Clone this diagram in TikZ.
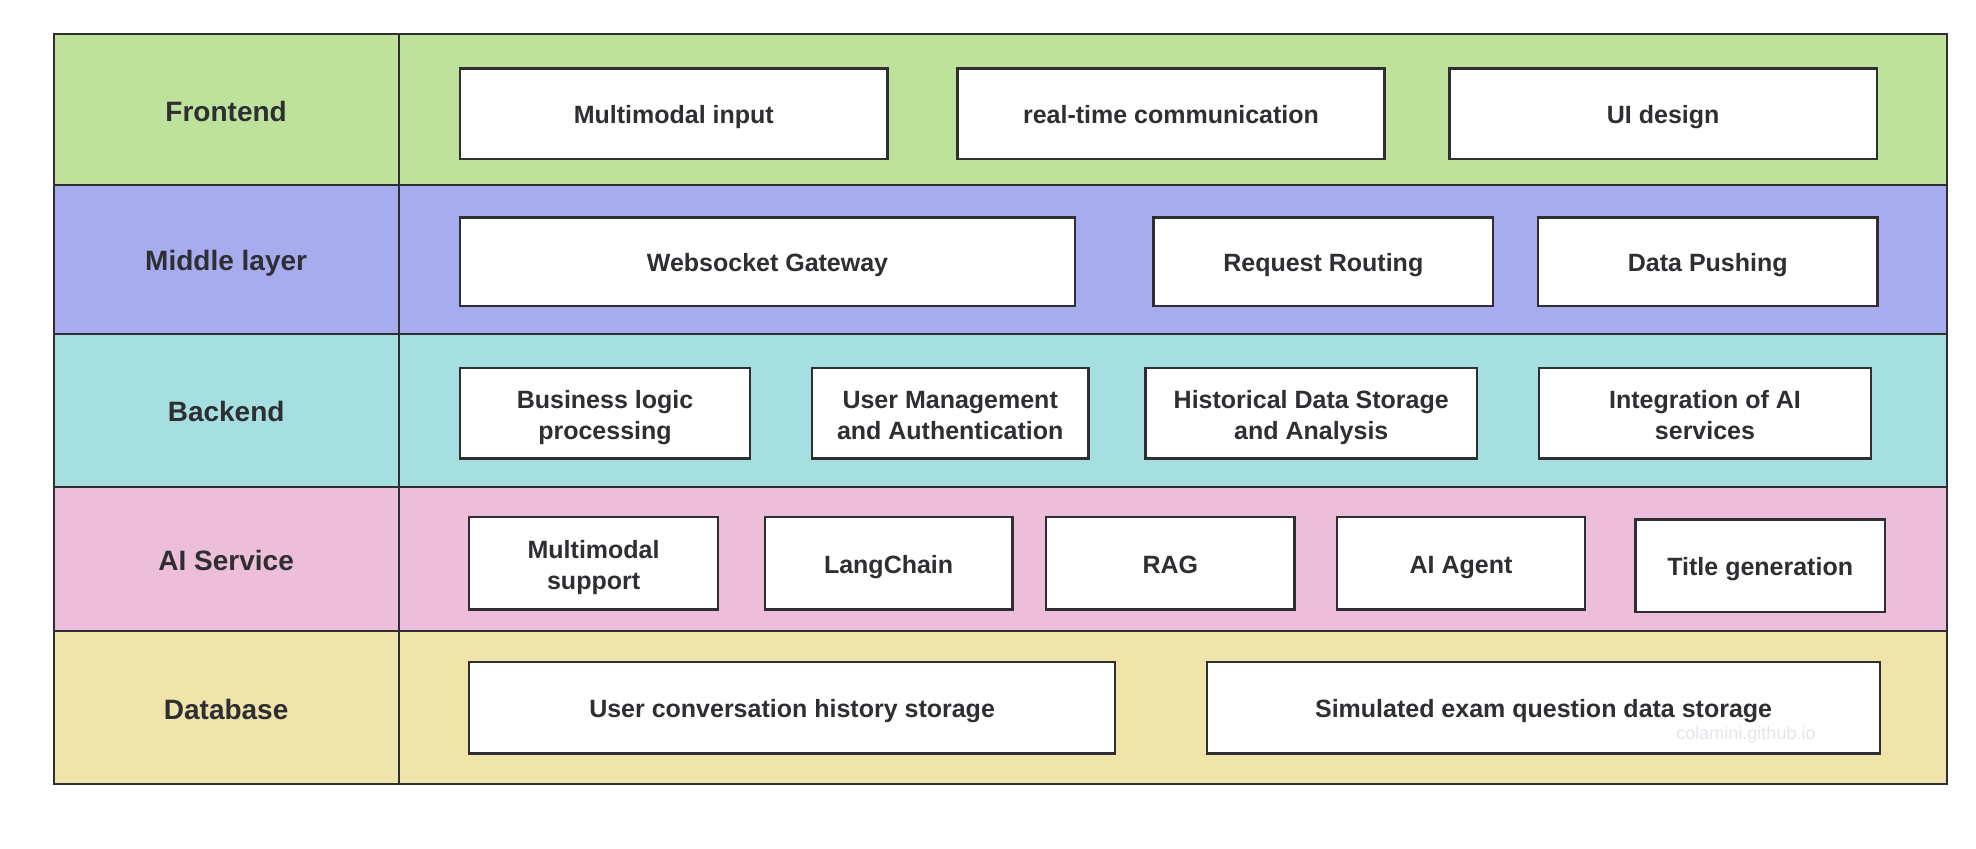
\documentclass[tikz,border=0pt]{standalone}
\usepackage{fontspec}
\setmainfont{Liberation Sans}
\definecolor{cfront}{HTML}{BEE29C}
\definecolor{cmid}{HTML}{A7ACEE}
\definecolor{cback}{HTML}{A6DFE0}
\definecolor{cai}{HTML}{ECBEDA}
\definecolor{cdb}{HTML}{EFE4A9}
\definecolor{ink}{HTML}{2E2E33}
\definecolor{wmcol}{HTML}{E3E6EA}
\tikzset{
  cellst/.style={draw=ink, line width=1pt, inner sep=0pt, outer sep=0pt},
  labelst/.style={cellst, font=\fontsize{14}{16}\selectfont\bfseries, text=ink,
    text height=14.9pt, text depth=3pt},
  itembase/.style={draw=ink, fill=white, line width=1.2pt, inner sep=0pt, outer sep=0pt,
    align=center, font=\fontsize{12.5}{15.75}\selectfont\bfseries, text=ink},
  itembox/.style={itembase, text height=13pt, text depth=2.8pt},
  itemtwo/.style={itembase},
  wmark/.style={font=\fontsize{9}{10}\selectfont, text=wmcol, inner sep=0pt}
}
\newcommand{\placebox}[7]{%
  \node[#1, minimum width={(#5-#3)*0.5pt}, minimum height={(#6-#4)*0.5pt}]
    (#2) at ({(#3+#5)/2},{(#4+#6)/2}) {#7};}
\newcommand{\toplinestrut}{\rule{0pt}{14pt}}
\newcommand{\botlinestrut}{\rule[-3pt]{0pt}{3pt}}
\begin{document}
\begin{tikzpicture}[x=0.5pt,y=-0.5pt]
\useasboundingbox (0,0) rectangle (1976,848);
% rows: label cells and content cells
\placebox{labelst,fill=cfront}{Lfront}{53.6}{34.3}{398.7}{184.5}{Frontend}
\placebox{cellst,fill=cfront}{Cfront}{398.7}{34.3}{1946.6}{184.5}{}
\placebox{labelst,fill=cmid}{Lmid}{53.6}{184.5}{398.7}{333.5}{Middle layer}
\placebox{cellst,fill=cmid}{Cmid}{398.7}{184.5}{1946.6}{333.5}{}
\placebox{labelst,fill=cback}{Lback}{53.6}{333.5}{398.7}{486.6}{Backend}
\placebox{cellst,fill=cback}{Cback}{398.7}{333.5}{1946.6}{486.6}{}
\placebox{labelst,fill=cai}{Lai}{53.6}{486.6}{398.7}{630.8}{AI Service}
\placebox{cellst,fill=cai}{Cai}{398.7}{486.6}{1946.6}{630.8}{}
\placebox{labelst,fill=cdb}{Ldb}{53.6}{630.8}{398.7}{784.3}{Database}
\placebox{cellst,fill=cdb}{Cdb}{398.7}{630.8}{1946.6}{784.3}{}
% Frontend
\placebox{itembox}{f1}{460}{68.3}{887.5}{158.7}{Multimodal input}
\placebox{itembox}{f2}{957.6}{68.3}{1384.4}{158.7}{real-time communication}
\placebox{itembox}{f3}{1449.6}{68.3}{1876.7}{158.7}{UI design}
% Middle layer
\placebox{itembox}{m1}{460}{217.3}{1075}{306}{Websocket Gateway}
\placebox{itembox}{m2}{1153.6}{217.3}{1493}{306}{Request Routing}
\placebox{itembox}{m3}{1538}{217.3}{1877.6}{306}{Data Pushing}
% Backend
\placebox{itemtwo}{b1}{460}{367.7}{750}{458.3}{\toplinestrut Business logic\\processing\botlinestrut}
\placebox{itemtwo}{b2}{812}{367.7}{1088.4}{458.3}{\toplinestrut User Management\\and Authentication\botlinestrut}
\placebox{itemtwo}{b3}{1145.5}{367.7}{1477}{458.3}{\toplinestrut Historical Data Storage\\and Analysis\botlinestrut}
\placebox{itemtwo}{b4}{1539}{367.7}{1871}{458.3}{\toplinestrut Integration of AI\\services\botlinestrut}
% AI Service
\placebox{itemtwo}{a1}{469.2}{516.7}{718}{609.3}{\toplinestrut Multimodal\\support\botlinestrut}
\placebox{itembox}{a2}{764.7}{516.7}{1012.5}{609.3}{LangChain}
\placebox{itembox}{a3}{1046}{516.7}{1294.6}{609.3}{RAG}
\placebox{itembox}{a4}{1337}{516.7}{1585}{609.3}{AI Agent}
\placebox{itembox}{a5}{1635.4}{519.3}{1885}{612}{Title generation}
% Database
\placebox{itembox}{d1}{469.2}{661.7}{1115}{753.3}{User conversation history storage}
\placebox{itembox}{d2}{1207}{661.7}{1880.2}{753.3}{Simulated exam question data storage}
% watermark
\node[wmark] (wm) at (1746,735) {colamini.github.io};
\end{tikzpicture}
\end{document}
